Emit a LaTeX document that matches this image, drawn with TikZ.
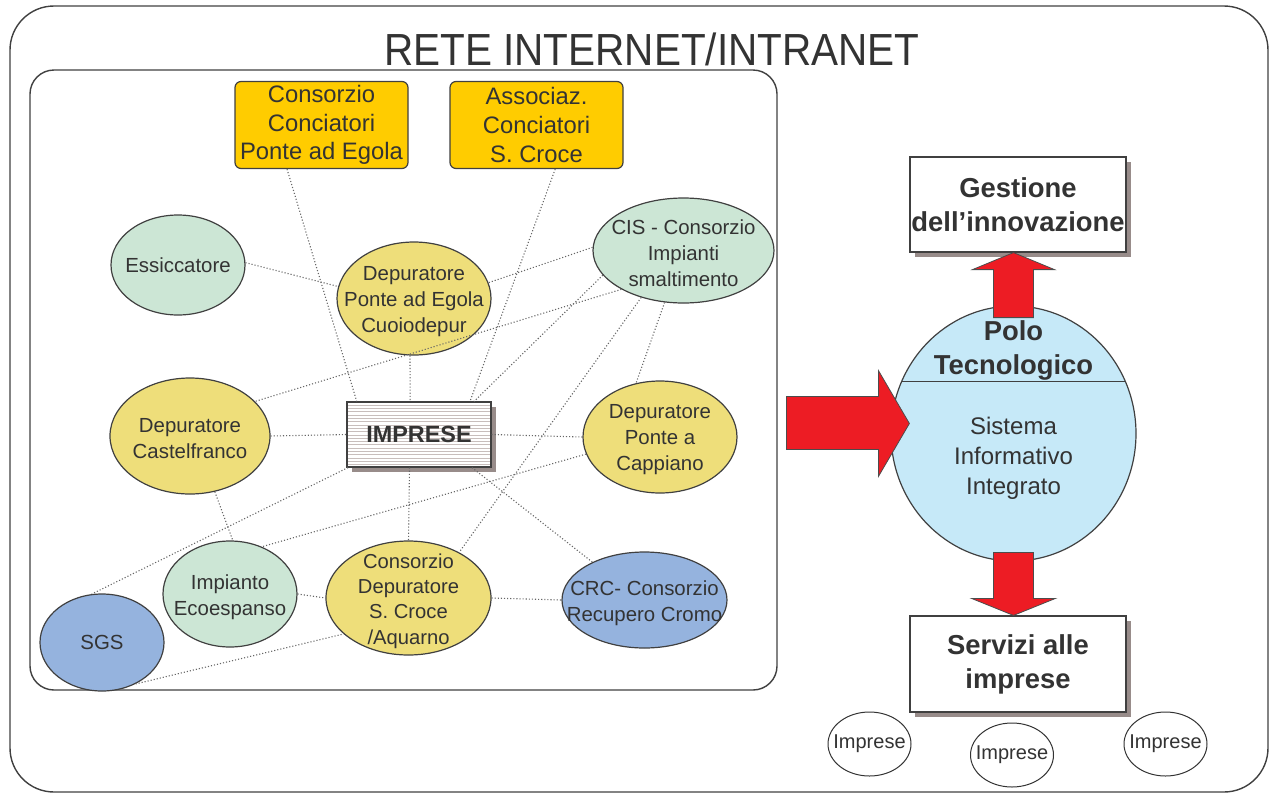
\documentclass[tikz,border=0pt]{standalone}
\usepackage{fontspec}
\setmainfont{Liberation Sans}
\usetikzlibrary{shapes.geometric,shadows,calc}
\definecolor{goldc}{RGB}{255,204,0}
\definecolor{yelc}{RGB}{238,222,122}
\definecolor{grnc}{RGB}{204,230,213}
\definecolor{bluc}{RGB}{149,179,222}
\definecolor{poloc}{RGB}{198,233,248}
\definecolor{redc}{RGB}{237,28,36}
\definecolor{shadc}{RGB}{152,140,138}
\definecolor{hatchc}{RGB}{200,190,188}
\definecolor{txtc}{RGB}{51,51,51}
\begin{document}
\begin{tikzpicture}[x=0.5pt, y=-0.5pt, text=txtc,
  frame/.style={draw=black!75, line width=0.7pt},
  sz/.style 2 args={minimum width=#1pt, minimum height=#2pt},
  lbl/.style={align=center, inner sep=0pt, font=\fontsize{10.2}{13}\selectfont},
  mlbl/.style={lbl, yshift=-1.5pt},
  ell/.style={ellipse, draw=black!75, line width=0.6pt, inner sep=0pt},
  yel/.style={ell, fill=yelc},
  grn/.style={ell, fill=grnc},
  blu/.style={ell, fill=bluc},
  gold/.style={draw=black!75, line width=0.6pt, fill=goldc, rounded corners=3pt, align=center,
    inner sep=0pt, sz={86.5}{43.5}, font=\fontsize{11.9}{14.4}\selectfont},
  shbox/.style={draw=black!75, line width=0.6pt, fill=white, align=center, inner sep=0pt,
    drop shadow={shadow xshift=2.3pt, shadow yshift=-2.3pt, fill=shadc, opacity=1},
    font=\bfseries\fontsize{13.7}{17}\selectfont},
  hatch/.style={path picture={\foreach \k in {1,...,19}
    \draw[hatchc, line width=0.5pt] ([yshift=-\k*1.65pt]path picture bounding box.north west)
      -- ([yshift=-\k*1.65pt]path picture bounding box.north east);}},
  firm/.style={ellipse, draw=black!80, line width=0.5pt, fill=white, inner sep=0pt,
    sz={41.5}{32}},
  link/.style={densely dotted, draw=black!60, line width=0.55pt},
  bigarrow/.style={draw=black!70, line width=0.4pt, fill=redc}]
  \useasboundingbox (0,0) rectangle (1276,794);
  \draw[frame, rounded corners=22pt] (10,6) rectangle (1268,792);
  \draw[frame, rounded corners=12pt] (30,70) rectangle (777,690);
  \node[anchor=base, font=\fontsize{22.5}{27}\selectfont, xscale=0.9] (title) at (652,65) {RETE INTERNET/INTRANET};

  \node[gold] (concia) at (321.5,125) {Consorzio\\Conciatori\\Ponte ad Egola};
  \node[gold] (assoc) at (536.5,125) {Associaz.\\Conciatori\\S. Croce};
  \node[grn, sz={67}{50}, label={[lbl]center:Essiccatore}] (essic) at (178,265) {};
  \node[yel, sz={77}{56.5}, label={[mlbl]center:Depuratore\\Ponte ad Egola\\Cuoiodepur}] (depegola) at (414,298.5) {};
  \node[grn, sz={90.5}{52.5}, label={[mlbl]center:CIS - Consorzio\\Impianti\\smaltimento}] (cis) at (683.5,250.5) {};
  \node[yel, sz={80}{58}, label={[mlbl]center:Depuratore\\Castelfranco}] (depcastel) at (190,436) {};
  \node[shbox, hatch, sz={72}{32.5}, font=\bfseries\fontsize{11.7}{14}\selectfont] (imprese) at (419,434.5) {IMPRESE};
  \node[yel, sz={77}{56}, label={[mlbl]center:Depuratore\\Ponte a\\Cappiano}] (depcapp) at (660,437) {};
  \node[grn, sz={67}{53}, label={[mlbl]center:Impianto\\Ecoespanso}] (ecoesp) at (230,594) {};
  \node[yel, sz={82.5}{57}, label={[mlbl, font=\fontsize{10.1}{12.7}\selectfont]center:Consorzio\\Depuratore\\S. Croce\\/Aquarno}] (depcroce) at (408.5,598) {};
  \node[blu, sz={82.5}{48}, label={[mlbl]center:CRC- Consorzio\\Recupero Cromo}] (crc) at (644.5,600) {};
  \node[blu, sz={62}{48.5}, label={[lbl]center:SGS}] (sgs) at (102,642.5) {};

  \draw[link] (concia.232) -- (imprese.152);
  \draw[link] (assoc.293) -- (imprese.33);
  \draw[link] (essic.2) -- (depegola.171);
  \draw[link] (depegola.266) -- (imprese.105);
  \draw[link] (cis.178) -- (depegola.12);
  \draw[link] (cis.212) -- (depcastel.28);
  \draw[link] (cis.197) -- (imprese.31);
  \draw[link] (cis.250) -- (depcapp.114);
  \draw[link] (cis.228) -- (depcroce.42);
  \draw[link] (depcastel.east) -- (imprese.west);
  \draw[link] (imprese.east) -- (depcapp.west);
  \draw[link] (imprese.205) -- (sgs.102);
  \draw[link] (depcapp.193) -- (ecoesp.56);
  \draw[link] (depcastel.294) -- (ecoesp.87);
  \draw[link] (imprese.254) -- (depcroce.north);
  \draw[link] (imprese.328) -- (crc.144);
  \draw[link] (ecoesp.east) -- (depcroce.west);
  \draw[link] (depcroce.east) -- (crc.west);
  \draw[link] (sgs.309) -- (depcroce.209);

  \node[shbox, sz={108}{47.5}] (gestione) at (1018,204.5) {Gestione\\dell’innovazione};
  \node[ellipse, draw=black!75, fill=poloc, line width=0.6pt, sz={122.5}{127.5}] (polo) at (1013.5,433.5) {};
  \draw[black!75, line width=0.6pt] (polo.155) -- (polo.25);
  \node[font=\bfseries\fontsize{13.7}{17}\selectfont, align=center] (polotit) at (1013.5,350.5) {Polo\\Tecnologico};
  \node[font=\fontsize{12}{15}\selectfont, align=center] (sistema) at (1013.5,458) {Sistema\\Informativo\\Integrato};
  \node[shbox, sz={108}{48}] (servizi) at (1018,664) {Servizi alle\\imprese};
  \node[firm, label={[lbl, font=\fontsize{10}{12}\selectfont]center:Imprese}] (firm1) at (869.5,744) {};
  \node[firm, label={[lbl, font=\fontsize{10}{12}\selectfont]center:Imprese}] (firm2) at (1012,755) {};
  \node[firm, label={[lbl, font=\fontsize{10}{12}\selectfont]center:Imprese}] (firm3) at (1165.5,744) {};

  \draw[bigarrow] (polo.north |- gestione.south) -- ++(41,17) -- ++(-21,0) -- ++(0,48)
    -- ++(-40,0) -- ++(0,-48) -- ++(-21,0) -- cycle;
  \draw[bigarrow] (polo.south |- servizi.north) -- ++(42,-17) -- ++(-22,0) -- ++(0,-46)
    -- ++(-40,0) -- ++(0,46) -- ++(-22,0) -- cycle;
  \draw[bigarrow] ($(polo.west)+(19,-10)$) -- ++(-31,-53) -- ++(0,26) -- ++(-92,0)
    -- ++(0,53) -- ++(92,0) -- ++(0,27) -- cycle;
\end{tikzpicture}
\end{document}
